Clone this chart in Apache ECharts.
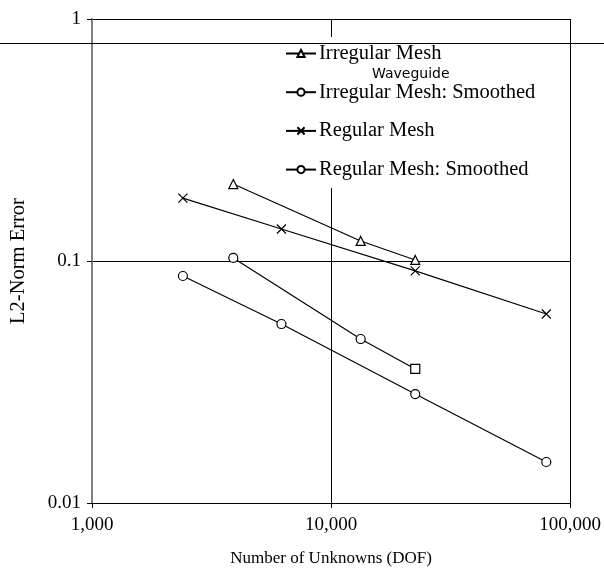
<!DOCTYPE html>
<html>
<head>
<meta charset="utf-8">
<script src="https://cdn.jsdelivr.net/npm/echarts@6/dist/echarts.min.js"></script>
<style>
  html, body { margin: 0; padding: 0; background: #fff; }
  #chart { width: 604px; height: 573px; }
</style>
</head>
<body>
<div id="chart"></div>
<script>
// Convergence of the L2-norm error against degrees of freedom (log-log)
const seriesNames = [
  'Irregular Mesh',
  'Irregular Mesh: Smoothed',
  'Regular Mesh',
  'Regular Mesh: Smoothed'
];

const irregularDof = [3900, 13300, 22500];
const irregularErr = [0.208, 0.121, 0.101];

const irregularSmoothedDof = [3900, 13300, 22500];
const irregularSmoothedErr = [0.103, 0.0476, 0.0358];

const regularDof = [2400, 6200, 22500, 79500];
const regularErr = [0.182, 0.1356, 0.091, 0.0604];

const regularSmoothedDof = [2400, 6200, 22500, 79500];
const regularSmoothedErr = [0.0867, 0.0549, 0.0282, 0.01477];

const xTicks = { 1000: '1,000', 10000: '10,000', 100000: '100,000' };
const yTicks = { 1: '1', 0.1: '0.1', 0.01: '0.01' };

const serif = 'Liberation Serif';
const crossPath = 'path://M0,0L10,10M10,0L0,10';

function pairs(xs, ys) {
  return xs.map((x, i) => [x, ys[i]]);
}

function lineSeries(name, data, symbol, size) {
  return {
    name: name,
    type: 'line',
    data: data,
    symbol: symbol,
    symbolSize: size,
    showSymbol: true,
    lineStyle: { color: '#000', width: 1.2 },
    itemStyle: { color: '#fff', borderColor: '#000', borderWidth: 1.2 },
    emphasis: { disabled: true },
    z: 3
  };
}

// last point of the smoothed irregular run uses a square marker
const irrSmoothData = pairs(irregularSmoothedDof, irregularSmoothedErr).map((p, i, arr) =>
  i === arr.length - 1 ? { value: p, symbol: 'rect', symbolSize: 9 } : p
);

const chart = echarts.init(document.getElementById('chart'), null, { renderer: 'canvas' });

chart.setOption({
  animation: false,
  backgroundColor: '#fff',
  grid: { left: 92, right: 33, top: 19, bottom: 70, containLabel: false },
  title: {
    text: 'Waveguide',
    left: 372,
    top: 67,
    padding: 0,
    z: 20,
    textStyle: { fontFamily: 'DejaVu Sans', fontSize: 14, fontWeight: 'normal', color: '#000' }
  },
  legend: {
    orient: 'vertical',
    left: 283,
    top: 37,
    padding: [6, 4, 8, 2],
    itemGap: 17.7,
    itemWidth: 30,
    itemHeight: 9,
    backgroundColor: '#fff',
    z: 10,
    data: seriesNames,
    textStyle: {
      fontFamily: serif, fontSize: 20.5, color: '#000',
      padding: [0, 0, 0, -2]
    }
  },
  xAxis: {
    type: 'log',
    logBase: 10,
    min: 1000,
    max: 100000,
    name: 'Number of Unknowns (DOF)',
    nameLocation: 'middle',
    nameGap: 47,
    nameTextStyle: { fontFamily: serif, fontSize: 17, color: '#000' },
    axisLine: { show: true, lineStyle: { color: '#000', width: 1 } },
    axisTick: { show: true, inside: false, length: 5, lineStyle: { color: '#000' } },
    axisLabel: {
      fontFamily: serif, fontSize: 19, color: '#000', margin: 13,
      formatter: v => xTicks[Math.round(v)] || ''
    },
    splitLine: { show: true, lineStyle: { color: '#000', width: 1 } },
    minorTick: { show: false }
  },
  yAxis: {
    type: 'log',
    logBase: 10,
    min: 0.01,
    max: 1,
    name: 'L2-Norm Error',
    nameLocation: 'middle',
    nameGap: 63,
    nameRotate: 90,
    nameTextStyle: { fontFamily: serif, fontSize: 20.5, color: '#000' },
    axisLine: { show: true, lineStyle: { color: '#808080', width: 2 } },
    axisTick: { show: true, inside: false, length: 5, lineStyle: { color: '#000' } },
    axisLabel: {
      fontFamily: serif, fontSize: 19, color: '#000', margin: 11,
      formatter: v => {
        const key = Object.keys(yTicks).find(k => Math.abs(Number(k) - v) < v * 1e-6);
        return key !== undefined ? yTicks[key] : '';
      }
    },
    splitLine: { show: true, lineStyle: { color: '#000', width: 1 } }
  },
  graphic: [
    {
      type: 'line',
      z: 30,
      shape: { x1: 0, y1: 43.5, x2: 604, y2: 43.5 },
      style: { stroke: '#000', lineWidth: 1 }
    }
  ],
  series: [
    lineSeries(seriesNames[0], pairs(irregularDof, irregularErr), 'triangle', 9),
    lineSeries(seriesNames[1], irrSmoothData, 'circle', 9),
    lineSeries(seriesNames[2], pairs(regularDof, regularErr), crossPath, 9),
    lineSeries(seriesNames[3], pairs(regularSmoothedDof, regularSmoothedErr), 'circle', 9)
  ]
});
</script>
</body>
</html>
